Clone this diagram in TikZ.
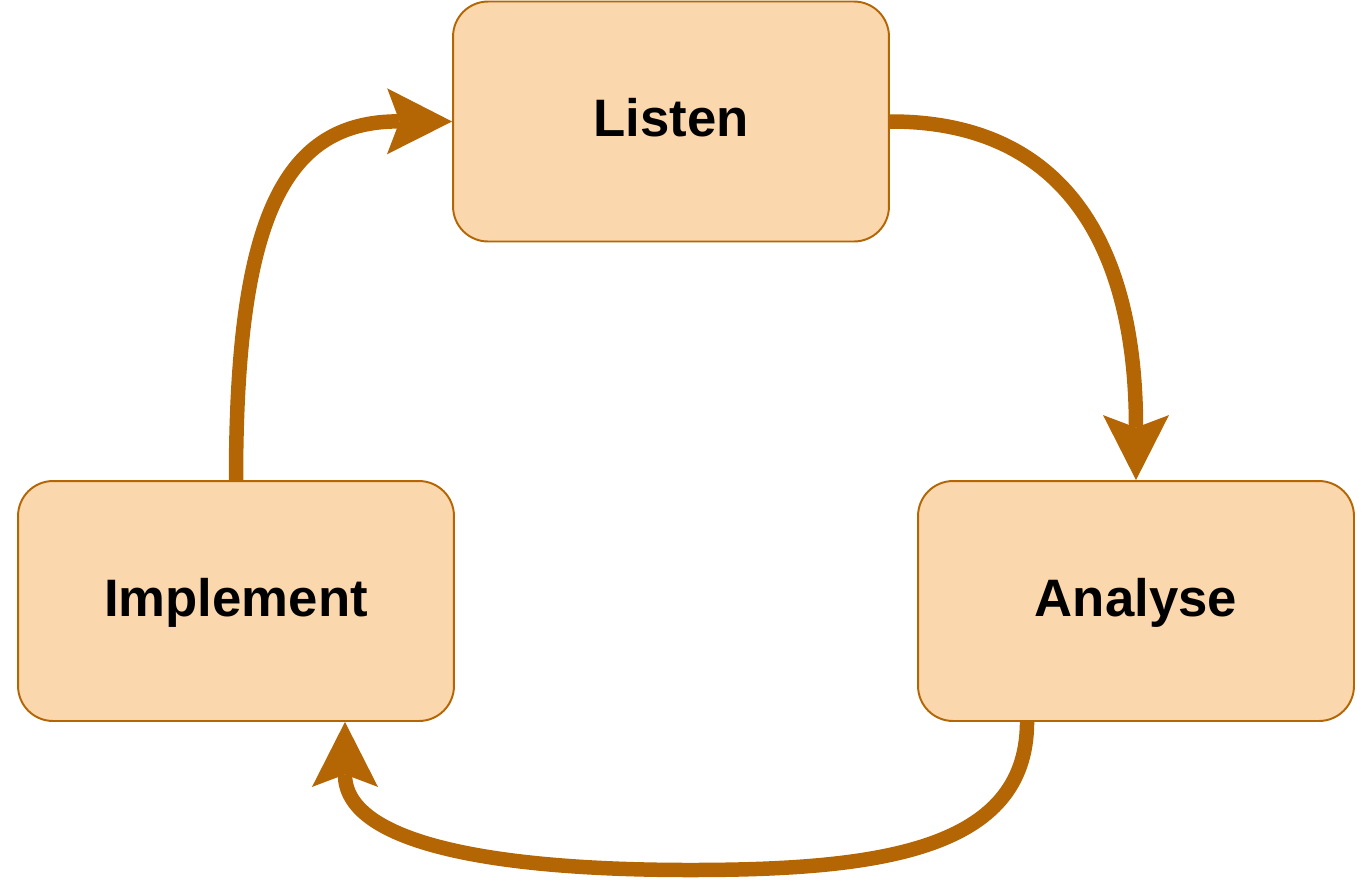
\documentclass[tikz,border=0pt]{standalone}
\usepackage{fontspec}
\setmainfont{Liberation Sans}
\usetikzlibrary{arrows.meta}
\definecolor{boxfill}{HTML}{FAD7AC}
\definecolor{boxline}{HTML}{B46504}
\begin{document}
\begin{tikzpicture}[x=0.02cm, y=-0.02cm, line join=round]
	\tikzstyle{phase} = [shape=rectangle, rounded corners=0.7cm, draw=boxline, fill=boxfill, line width=1.1pt, minimum width=8.72cm, minimum height=4.8cm, inner sep=0pt, font=\fontsize{30}{36}\selectfont\bfseries, text height=22pt, text depth=4.4pt]
	\tikzstyle{flow} = [draw=boxline, line width=0.29cm, -{Stealth[length=1.3cm, width=1.32cm, inset=0.25cm, line width=0pt]}]
	\useasboundingbox (0,0) rectangle (1370,887);
	\node[phase] (listen) at (671,121.5) {Listen};
	\node[phase] (analyse) at (1136,601) {Analyse};
	\node[phase] (implement) at (236,601) {Implement};
	\draw[flow] (listen.east) .. controls (1060,121) and (1136,240) .. (analyse.north);
	\draw[flow] ([xshift=-2.18cm]analyse.south) .. controls (1027,850) and (880,870) .. (690,870)
		.. controls (480,870) and (345,840) .. ([xshift=2.18cm]implement.south);
	\draw[flow] (implement.north) .. controls (236,215) and (285,121) .. (listen.west);
\end{tikzpicture}
\end{document}
